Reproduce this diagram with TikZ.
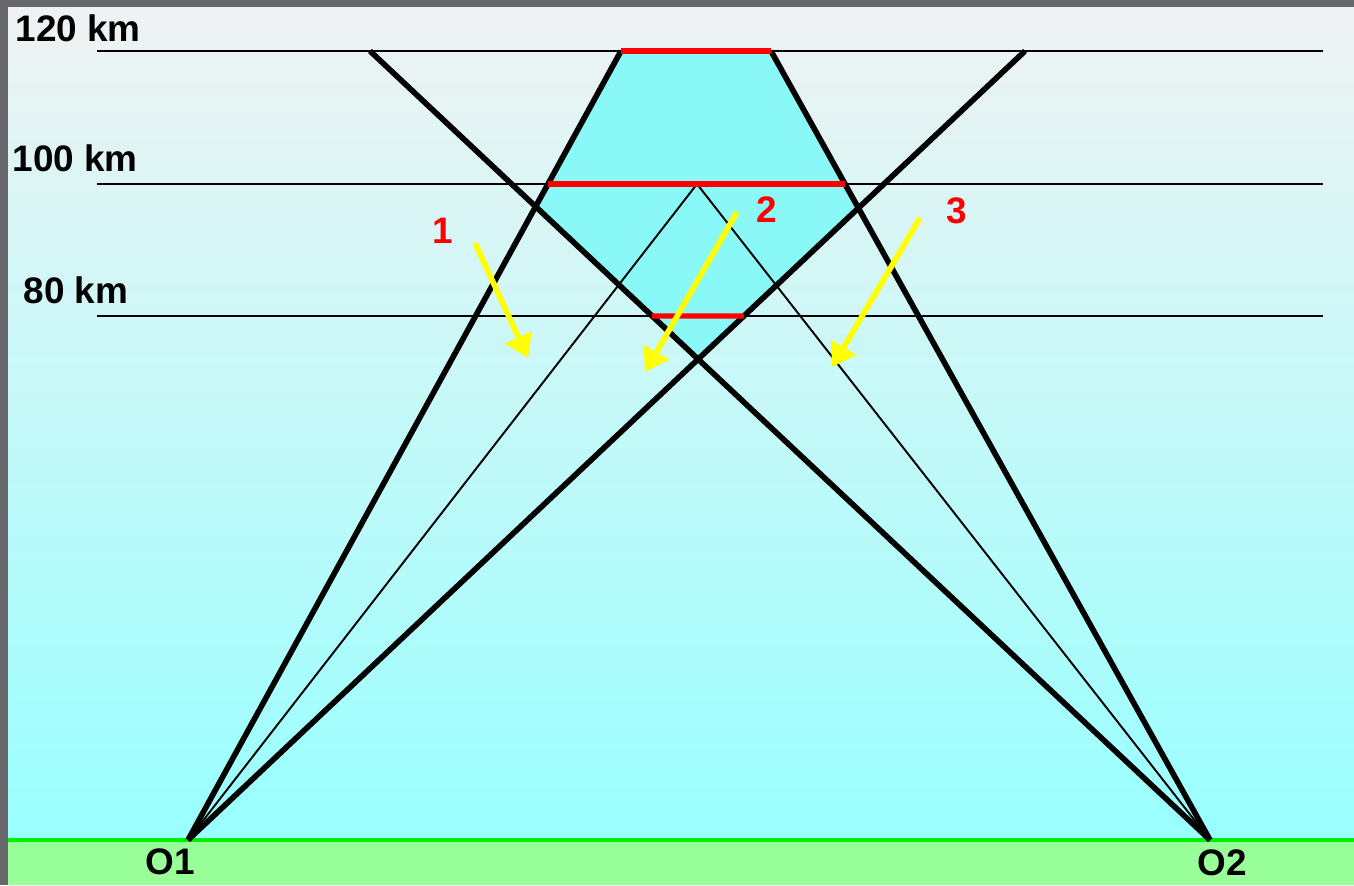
\documentclass[tikz,border=0pt]{standalone}
\usepackage{fontspec}
\setmainfont{Liberation Sans}
\usepackage{xcolor}
\usepackage{tikz}
\usetikzlibrary{arrows.meta, positioning, calc}
\definecolor{skytop}{RGB}{240,242,242}
\definecolor{skybottom}{RGB}{153,255,255}
\definecolor{overlapcyan}{RGB}{138,248,246}
\definecolor{groundgreen}{RGB}{153,255,153}
\definecolor{horizongreen}{RGB}{0,238,0}
\definecolor{framegray}{RGB}{104,103,108}
\definecolor{heightred}{RGB}{255,0,0}
\definecolor{arrowyellow}{RGB}{255,255,0}
\tikzstyle{ray} = [line width=1.6pt, black]
\tikzstyle{thinray} = [line width=0.55pt, black]
\tikzstyle{level} = [line width=0.5pt, black]
\tikzstyle{overlap} = [line width=1.5pt, heightred]
\tikzstyle{arrow} = [line width=1.6pt, arrowyellow, -{Triangle[length=6.5pt, width=8pt]}]
\tikzstyle{kmtext} = [font=\fontsize{10.5}{12}\selectfont\bfseries, inner sep=0pt, anchor=west]
\tikzstyle{stationtext} = [font=\fontsize{10.5}{12}\selectfont\bfseries, inner sep=0pt]
\tikzstyle{numtext} = [font=\fontsize{10.5}{12}\selectfont\bfseries, inner sep=0pt, text=heightred]

\begin{document}
\begin{tikzpicture}
\useasboundingbox (0,0) rectangle (13.54,8.85);

% ===== BACKGROUND =====
\shade [top color=skytop, bottom color=skybottom] (0,0.45) rectangle (13.54,8.85);
\fill [groundgreen] (0,0) rectangle (13.54,0.45);
\draw [horizongreen, line width=1.1pt] (0,0.45) -- (13.54,0.45);
\fill [framegray] (0,8.78) rectangle (13.54,8.85);
\fill [framegray] (0,0) rectangle (0.08,8.85);

% ===== STATIONS AND RAY ENDS =====
\coordinate (o1) at (1.88,0.45);
\coordinate (o2) at (12.10,0.45);
\coordinate (farleft) at (3.70,8.34);
\coordinate (nearleft) at (6.21,8.34);
\coordinate (nearright) at (7.71,8.34);
\coordinate (farright) at (10.25,8.34);
\coordinate (apex) at (6.97,7.01);

% ===== HEIGHT LEVELS =====
\coordinate (h120w) at (0.97,8.34);
\coordinate (h120e) at (13.23,8.34);
\coordinate (h100w) at (0.97,7.01);
\coordinate (h100e) at (13.23,7.01);
\coordinate (h80w) at (0.97,5.69);
\coordinate (h80e) at (13.23,5.69);

% ===== COMMON VOLUME =====
\coordinate (cleft) at (intersection of o1--nearleft and o2--farleft);
\coordinate (cright) at (intersection of o2--nearright and o1--farright);
\coordinate (cbottom) at (intersection of o1--farright and o2--farleft);
\fill [overlapcyan] (nearleft) -- (nearright) -- (cright) -- (cbottom) -- (cleft) -- cycle;

\draw [level] (h120w) -- (h120e);
\draw [level] (h100w) -- (h100e);
\draw [level] (h80w) -- (h80e);

% ===== RAYS =====
\draw [ray] (o1) -- (nearleft);
\draw [ray] (o1) -- (farright);
\draw [ray] (o2) -- (nearright);
\draw [ray] (o2) -- (farleft);
\draw [thinray] (o1) -- (apex) -- (o2);

% ===== OVERLAP AT EACH HEIGHT =====
\draw [overlap] (nearleft) -- (nearright);
\draw [overlap] (intersection of o1--nearleft and h100w--h100e) -- (intersection of o2--nearright and h100w--h100e);
\draw [overlap] (intersection of o2--farleft and h80w--h80e) -- (intersection of o1--farright and h80w--h80e);

% ===== POINTERS =====
\coordinate (a1s) at (4.75,6.42);
\coordinate (a1e) at (5.28,5.27);
\coordinate (a2s) at (7.37,6.73);
\coordinate (a2e) at (6.45,5.13);
\coordinate (a3s) at (9.20,6.67);
\coordinate (a3e) at (8.32,5.18);
\draw [arrow] (a1s) -- (a1e);
\draw [arrow] (a2s) -- (a2e);
\draw [arrow] (a3s) -- (a3e);

% ===== LABELS =====
\node (km120) [kmtext] at (0.15,8.57) {120 km};
\node (km100) [kmtext] at (0.12,7.27) {100 km};
\node (km80) [kmtext] at (0.23,5.95) {80 km};
\node (o1label) [stationtext] at (1.70,0.23) {O1};
\node (o2label) [stationtext] at (12.22,0.22) {O2};
\node (num1) [numtext] at (4.43,6.54) {1};
\node (num2) [numtext] at (7.67,6.75) {2};
\node (num3) [numtext] at (9.57,6.74) {3};

\end{tikzpicture}
\end{document}
